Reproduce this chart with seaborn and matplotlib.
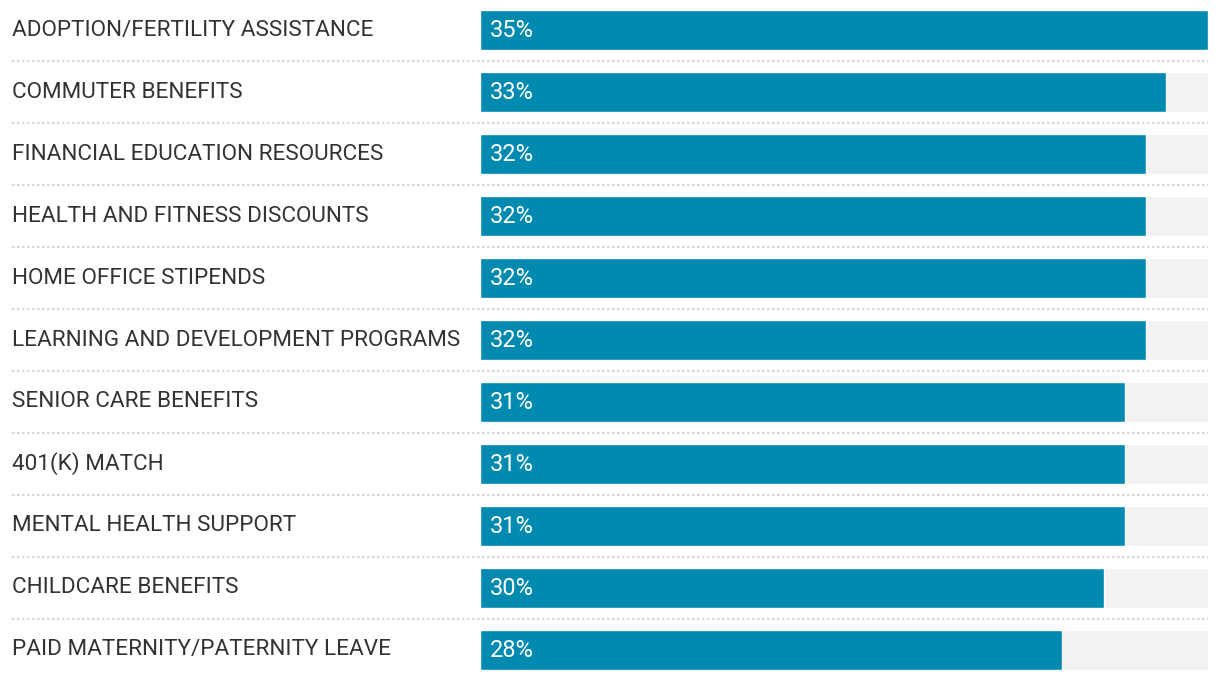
import matplotlib
matplotlib.use("Agg")
import matplotlib.pyplot as plt
import matplotlib.transforms as mtransforms
import seaborn as sns
import pandas as pd

categories = [
    "ADOPTION/FERTILITY ASSISTANCE",
    "COMMUTER BENEFITS",
    "FINANCIAL EDUCATION RESOURCES",
    "HEALTH AND FITNESS DISCOUNTS",
    "HOME OFFICE STIPENDS",
    "LEARNING AND DEVELOPMENT PROGRAMS",
    "SENIOR CARE BENEFITS",
    "401(K) MATCH",
    "MENTAL HEALTH SUPPORT",
    "CHILDCARE BENEFITS",
    "PAID MATERNITY/PATERNITY LEAVE",
]
values = [35, 33, 32, 32, 32, 32, 31, 31, 31, 30, 28]
max_value = 35

sns.set_theme(style="white")
plt.rcParams["font.family"] = ["Roboto", "DejaVu Sans"]

df = pd.DataFrame({"category": categories, "value": values,
                   "track": [max_value] * len(values)})

W, H, DPI = 1220, 680, 100
fig = plt.figure(figsize=(W / DPI, H / DPI), dpi=DPI)
fig.patch.set_facecolor("white")
ax = fig.add_axes([480 / W, 0, 728 / W, 1])

bar_h = 40 / 62
sns.barplot(data=df, y="category", x="track", color="#f2f2f2", width=bar_h,
            ax=ax, orient="h", saturation=1)
sns.barplot(data=df, y="category", x="value", color="#008ab0", width=bar_h,
            ax=ax, orient="h", saturation=1)

ax.set_xlim(0, max_value)
ax.set_ylim(len(categories) - 1 + 0.484, -0.484)
ax.set_xlabel("")
ax.set_ylabel("")
ax.set_xticks([])
for s in ax.spines.values():
    s.set_visible(False)

ax.tick_params(axis="y", length=0, pad=(480 - 12) * 72 / DPI)
ax.set_yticks(range(len(categories)))
ax.set_yticklabels(categories, ha="left", va="center", fontsize=16.2, color="#333333")

for i, v in enumerate(values):
    ax.text(0.48, i + 0.01, f"{v}%", color="white", fontsize=17, va="center", ha="left")

trans = mtransforms.blended_transform_factory(fig.transFigure, ax.transData)
for i in range(len(categories) - 1):
    ax.plot([12 / W, 1208 / W], [i + 0.5, i + 0.5], transform=trans,
            color="#d6d6d6", lw=1.5, linestyle=(0, (1.2, 1.2)), clip_on=False)

fig.savefig("out.png", dpi=DPI, facecolor="white")
